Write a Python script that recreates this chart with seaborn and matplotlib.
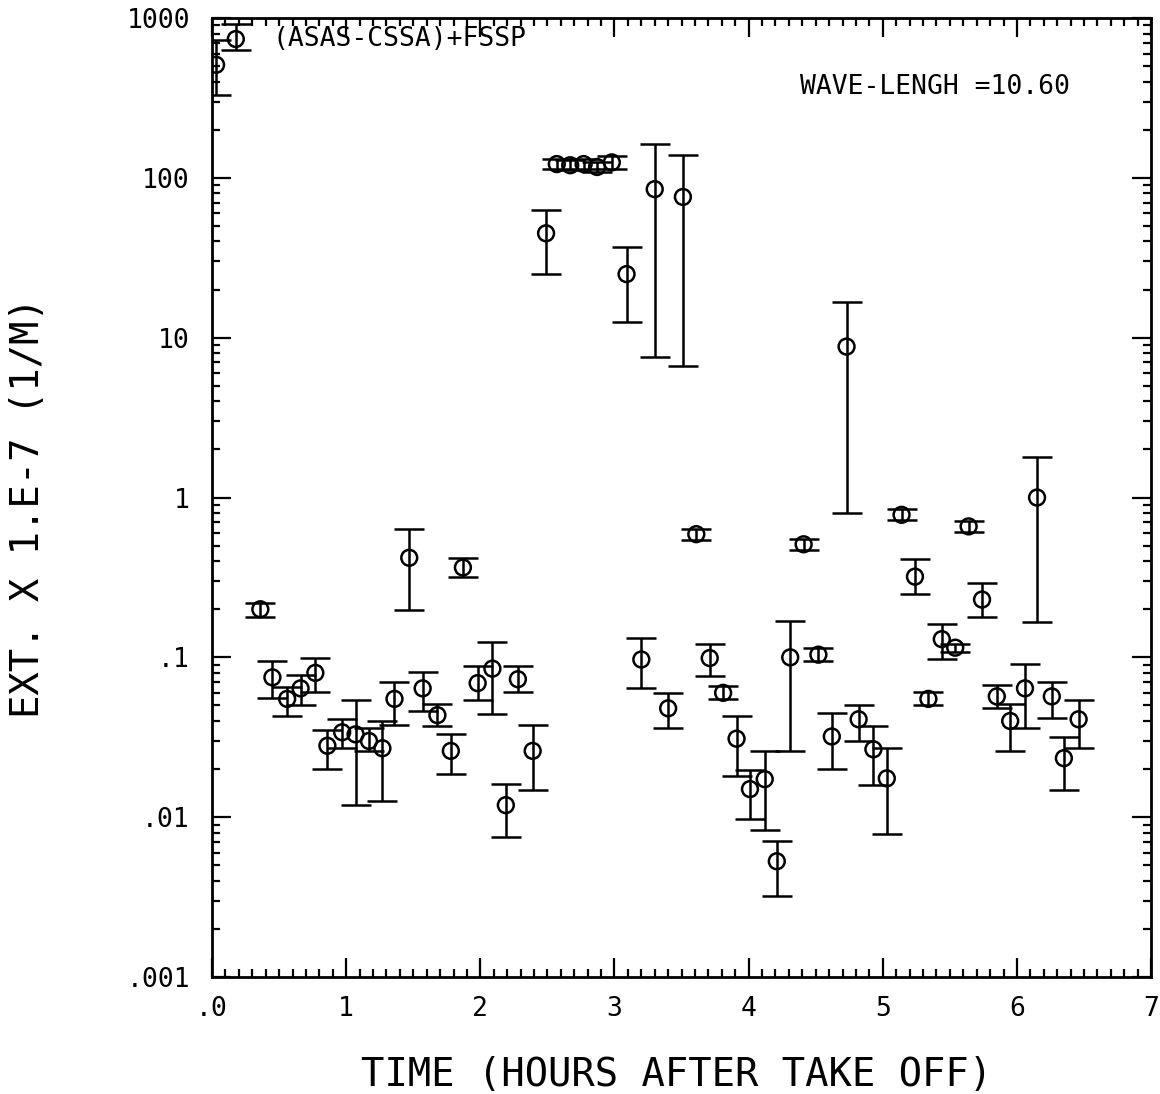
import numpy as np
import matplotlib
matplotlib.use("Agg")
import matplotlib.pyplot as plt
import matplotlib.ticker as mticker
from matplotlib.legend_handler import HandlerTuple
import seaborn as sns

# Data (time in hours, extinction x 1e-7 1/m)
time_h = [0.03, 0.36, 0.45, 0.56, 0.66, 0.77, 0.86, 0.97, 1.07, 1.17,
          1.27, 1.36, 1.47, 1.57, 1.68, 1.78, 1.87, 1.98, 2.09, 2.19,
          2.28, 2.39, 2.49, 2.57, 2.67, 2.77, 2.87, 2.98, 3.09, 3.20,
          3.30, 3.40, 3.51, 3.61, 3.71, 3.81, 3.91, 4.01, 4.12, 4.21,
          4.31, 4.41, 4.52, 4.62, 4.73, 4.82, 4.93, 5.03, 5.14, 5.24,
          5.34, 5.44, 5.54, 5.64, 5.74, 5.85, 5.95, 6.06, 6.15, 6.26,
          6.35, 6.46]
ext = [510, 0.20, 0.075, 0.055, 0.064, 0.080, 0.028, 0.034, 0.033, 0.030,
       0.027, 0.055, 0.42, 0.064, 0.0435, 0.026, 0.365, 0.069, 0.085, 0.0119,
       0.073, 0.026, 45, 122, 120, 122, 117, 125, 25, 0.097,
       85, 0.048, 76, 0.59, 0.099, 0.060, 0.031, 0.015, 0.0173, 0.0053,
       0.10, 0.51, 0.104, 0.032, 8.8, 0.041, 0.0266, 0.0175, 0.78, 0.32,
       0.055, 0.13, 0.115, 0.66, 0.23, 0.057, 0.040, 0.064, 1.0, 0.057,
       0.0234, 0.041]
ext_low = [330, 0.18, 0.056, 0.043, 0.050, 0.061, 0.020, 0.027, 0.012, 0.026,
           0.0126, 0.038, 0.197, 0.046, 0.037, 0.0186, 0.32, 0.054, 0.044, 0.0075,
           0.061, 0.0148, 25, 114, 112, 114, 109, 113, 12.6, 0.064,
           7.6, 0.036, 6.7, 0.54, 0.077, 0.055, 0.018, 0.0098, 0.0083, 0.0032,
           0.026, 0.47, 0.095, 0.020, 0.8, 0.030, 0.016, 0.0079, 0.72, 0.25,
           0.050, 0.097, 0.108, 0.61, 0.18, 0.048, 0.026, 0.036, 0.166, 0.042,
           0.0148, 0.027]
ext_high = [730, 0.22, 0.095, 0.065, 0.078, 0.099, 0.035, 0.041, 0.054, 0.036,
            0.040, 0.070, 0.64, 0.081, 0.051, 0.033, 0.42, 0.088, 0.124, 0.0161,
            0.088, 0.038, 63, 131, 129, 131, 126, 138, 37, 0.133,
            162, 0.060, 140, 0.64, 0.121, 0.066, 0.043, 0.0197, 0.026, 0.0071,
            0.17, 0.55, 0.114, 0.045, 16.8, 0.050, 0.037, 0.027, 0.85, 0.41,
            0.061, 0.162, 0.122, 0.71, 0.29, 0.067, 0.051, 0.091, 1.8, 0.070,
            0.0316, 0.054]

x_ticks = [0, 1, 2, 3, 4, 5, 6, 7]
x_ticklabels = [".0", "1", "2", "3", "4", "5", "6", "7"]
y_ticks = [0.001, 0.01, 0.1, 1, 10, 100, 1000]
y_ticklabels = [".001", ".01", ".1", "1", "10", "100", "1000"]

sns.set_theme(style="ticks")
plt.rcParams["font.family"] = ["DejaVu Sans Mono", "DejaVu Sans"]
plt.rcParams["text.color"] = "black"
plt.rcParams["axes.labelcolor"] = "black"
plt.rcParams["xtick.color"] = "black"
plt.rcParams["ytick.color"] = "black"

t = np.array(time_h)
y = np.array(ext)
yerr = [y - np.array(ext_low), np.array(ext_high) - y]

fig = plt.figure(figsize=(11.6, 10.94), dpi=100)
ax = fig.add_axes([0.1828, 0.1069, 0.8095, 0.8766])

eb = ax.errorbar(t, y, yerr=yerr, fmt="none", ecolor="black",
                 elinewidth=1.8, capsize=11, capthick=1.8)
sns.scatterplot(x=t, y=y, marker="o", s=130, facecolor="none",
                edgecolor="black", linewidth=1.8, ax=ax, zorder=3)
sc = ax.collections[-1]

ax.set_yscale("log")
ax.set_xlim(0, 7)
ax.set_ylim(0.001, 1000)

ax.set_xticks(x_ticks)
ax.set_xticklabels(x_ticklabels)
ax.set_yticks(y_ticks)
ax.set_yticklabels(y_ticklabels)
ax.xaxis.set_minor_locator(mticker.MultipleLocator(0.1))
ax.yaxis.set_minor_locator(mticker.LogLocator(base=10, subs=np.arange(2, 10)))
ax.yaxis.set_minor_formatter(mticker.NullFormatter())

ax.tick_params(which="both", direction="in", top=True, right=True,
               color="black", labelcolor="black", width=1.6, labelsize=19)
ax.tick_params(which="major", length=14)
ax.tick_params(which="minor", length=6)
ax.tick_params(axis="x", which="major", pad=14)
ax.tick_params(axis="y", which="major", pad=16)

for s in ax.spines.values():
    s.set_color("black")
    s.set_linewidth(2)

ax.set_xlabel("TIME (HOURS AFTER TAKE OFF)", fontsize=28, va="center",
              color="black")
ax.set_ylabel("EXT. X 1.E-7 (1/M)", fontsize=28, va="center", color="black")
ax.xaxis.set_label_coords(0.495, -0.102)
ax.yaxis.set_label_coords(-0.196, 0.49)

ax.legend(handles=[(eb, sc)], labels=["(ASAS-CSSA)+FSSP"],
          handler_map={tuple: HandlerTuple(ndivide=1)},
          loc="upper left", bbox_to_anchor=(0.0, 1.0), frameon=False,
          fontsize=19, handlelength=1.2, handletextpad=0.8,
          borderpad=0.1, borderaxespad=0.2, labelcolor="black")

ax.text(0.914, 0.928, "WAVE-LENGH =10.60", transform=ax.transAxes,
        ha="right", va="center", fontsize=19, color="black")

fig.savefig("out.png", dpi=100)
